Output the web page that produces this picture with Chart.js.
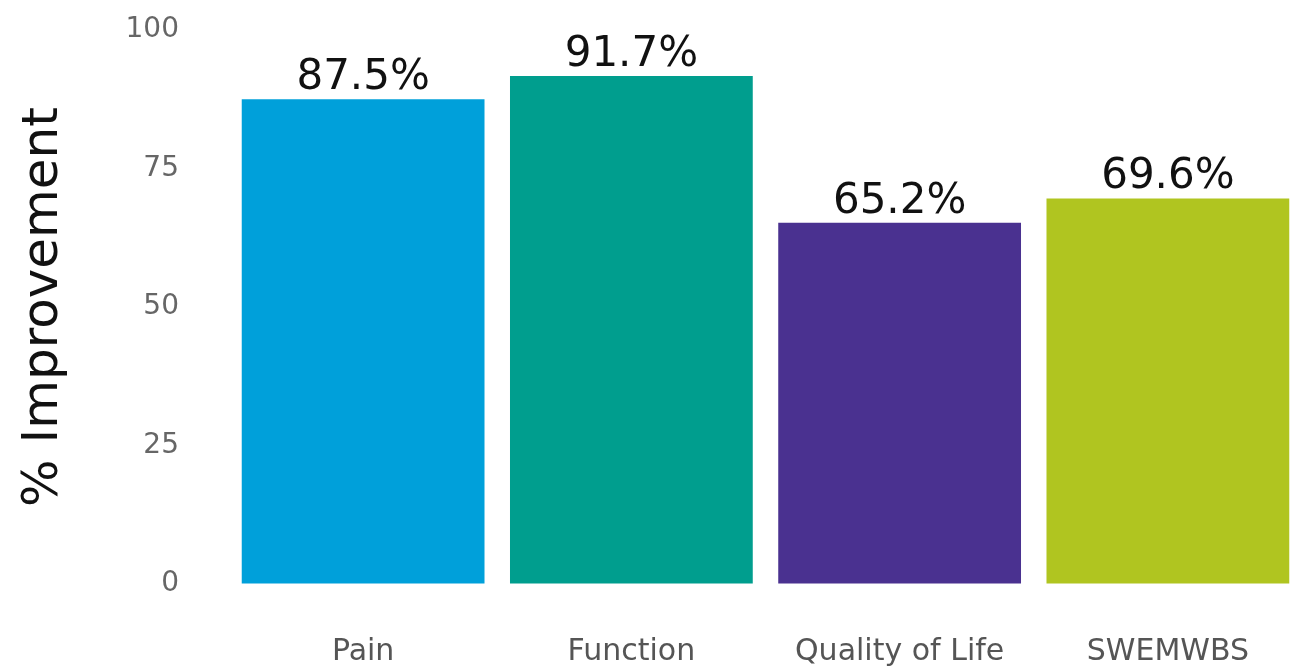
<!DOCTYPE html>
<html>
<head>
<meta charset="utf-8">
<script src="https://cdn.jsdelivr.net/npm/chart.js@4"></script>
<style>
  html, body { margin: 0; padding: 0; background: #fff; }
  canvas { display: block; }
</style>
</head>
<body>
<canvas id="improvementChart" width="1302" height="667"></canvas>
<script>
// Chart data
const categories = ['Pain', 'Function', 'Quality of Life', 'SWEMWBS'];
const improvement = [87.5, 91.7, 65.2, 69.6];
const barColors = ['#00a0da', '#009e8e', '#4a3190', '#b0c520'];
const yTicks = [0, 25, 50, 75, 100];

// Draws the value above every bar
const valueLabels = {
    id: 'valueLabels',
    afterDatasetsDraw(chart) {
        const ctx = chart.ctx;
        const meta = chart.getDatasetMeta(0);
        ctx.save();
        ctx.font = "42px 'DejaVu Sans'";
        ctx.fillStyle = '#111';
        ctx.textAlign = 'center';
        ctx.textBaseline = 'alphabetic';
        meta.data.forEach((bar, i) => {
            const v = chart.data.datasets[0].data[i];
            ctx.fillText(v.toFixed(1) + '%', bar.x, bar.y - 10);
        });
        ctx.restore();
    }
};

const ctx = document.getElementById('improvementChart').getContext('2d');

new Chart(ctx, {
    type: 'bar',
    data: {
        labels: categories,
        datasets: [{
            label: '% Improvement',
            data: improvement,
            backgroundColor: barColors,
            borderWidth: 0,
            barPercentage: 0.905,
            categoryPercentage: 1
        }]
    },
    options: {
        responsive: false,
        animation: false,
        layout: { padding: { top: 30, right: 0, bottom: 0, left: 0 } },
        plugins: {
            legend: { display: false },
            tooltip: { enabled: false }
        },
        scales: {
            x: {
                grid: { display: false, drawTicks: false },
                border: { display: false },
                ticks: {
                    color: '#555',
                    padding: 50,
                    maxRotation: 0,
                    font: { family: "'DejaVu Sans'", size: 30 }
                },
                afterFit(scale) { scale.height = 83; }
            },
            y: {
                min: 0,
                max: 100,
                afterBuildTicks(scale) {
                    scale.ticks = yTicks.map(v => ({ value: v }));
                },
                // invisible tick marks keep the labels away from the bars
                grid: {
                    display: true,
                    color: 'rgba(0,0,0,0)',
                    drawOnChartArea: false,
                    drawTicks: true,
                    tickLength: 50
                },
                border: { display: false },
                ticks: {
                    color: '#666',
                    padding: 0,
                    font: { family: "'DejaVu Sans'", size: 28 }
                },
                title: {
                    display: true,
                    text: '% Improvement',
                    color: '#111',
                    padding: { top: 14, bottom: 0 },
                    font: { family: "'DejaVu Sans'", size: 50 }
                },
                afterFit(scale) { scale.width = 229; }
            }
        }
    },
    plugins: [valueLabels]
});
</script>
</body>
</html>
